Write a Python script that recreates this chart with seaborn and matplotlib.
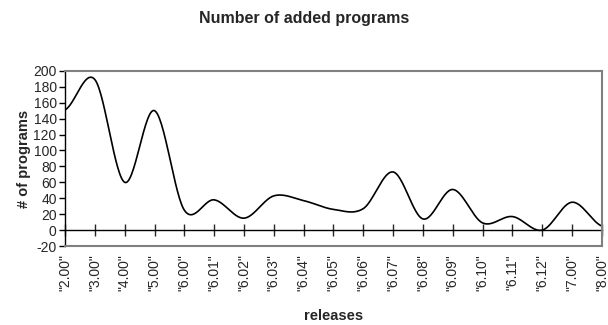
import matplotlib
matplotlib.use("Agg")
import matplotlib.pyplot as plt
import seaborn as sns
import numpy as np

# releases and number of added programs
releases = ['"2.00"', '"3.00"', '"4.00"', '"5.00"', '"6.00"', '"6.01"', '"6.02"',
            '"6.03"', '"6.04"', '"6.05"', '"6.06"', '"6.07"', '"6.08"', '"6.09"',
            '"6.10"', '"6.11"', '"6.12"', '"7.00"', '"8.00"']
added = [151, 189, 60, 150, 25, 38, 15, 43, 37, 26, 27, 73, 14, 51, 9, 17, 0, 35, 5]
yticks = list(range(-20, 201, 20))


def smooth(y, n=30):
    # Catmull-Rom like Excel's "smoothed line"
    y = np.asarray(y, dtype=float)
    p = np.concatenate([[y[0]], y, [y[-1]]])
    xs, ys = [], []
    for i in range(len(y) - 1):
        p0, p1, p2, p3 = p[i], p[i + 1], p[i + 2], p[i + 3]
        t = np.linspace(0, 1, n, endpoint=False)
        c1 = p1 + (p2 - p0) / 6
        c2 = p2 - (p3 - p1) / 6
        b = (1 - t) ** 3 * p1 + 3 * (1 - t) ** 2 * t * c1 + 3 * (1 - t) * t ** 2 * c2 + t ** 3 * p2
        xs.append(i + t)
        ys.append(b)
    xs.append([len(y) - 1])
    ys.append([y[-1]])
    return np.concatenate(xs), np.concatenate(ys)


sns.set_style("white")
plt.rcParams['font.family'] = ['Liberation Sans', 'DejaVu Sans']

fig = plt.figure(figsize=(6.08, 3.25), dpi=100)
ax = fig.add_axes([0.107, 0.243, 0.883, 0.539])

sx, sy = smooth(added)
sns.lineplot(x=sx, y=sy, ax=ax, color="black", linewidth=1.2)

ax.set_xlim(0, len(releases) - 1)
ax.set_ylim(-20, 200)
ax.set_yticks(yticks)
ax.set_yticklabels([str(v) for v in yticks], fontsize=10)
ax.tick_params(axis="y", direction="out", length=4, width=1, color="black", left=True, pad=2)

ax.set_xticks(range(len(releases)))
ax.set_xticklabels(releases, rotation=90, fontsize=10)
ax.tick_params(axis="x", length=0, pad=6)

for s in ["top", "right", "bottom"]:
    ax.spines[s].set_color("#808080")
    ax.spines[s].set_linewidth(1.5)
ax.spines["left"].set_color("black")
ax.spines["left"].set_linewidth(1)

# x axis crossing at zero with cross ticks
zero = ax.secondary_xaxis(20 / 220)
zero.set_xticks(range(len(releases)))
zero.tick_params(axis="x", direction="inout", length=8, width=1, labelbottom=False, labeltop=False)
zero.spines["bottom"].set_color("black")
zero.spines["bottom"].set_linewidth(1)

ax.set_xlabel("releases", fontsize=10.5, fontweight="bold", labelpad=13)
ax.set_ylabel("# of programs", fontsize=10.5, fontweight="bold", labelpad=2)
fig.suptitle("Number of added programs", fontsize=11.5, fontweight="bold", y=0.965)

fig.savefig("out.png", dpi=100)
